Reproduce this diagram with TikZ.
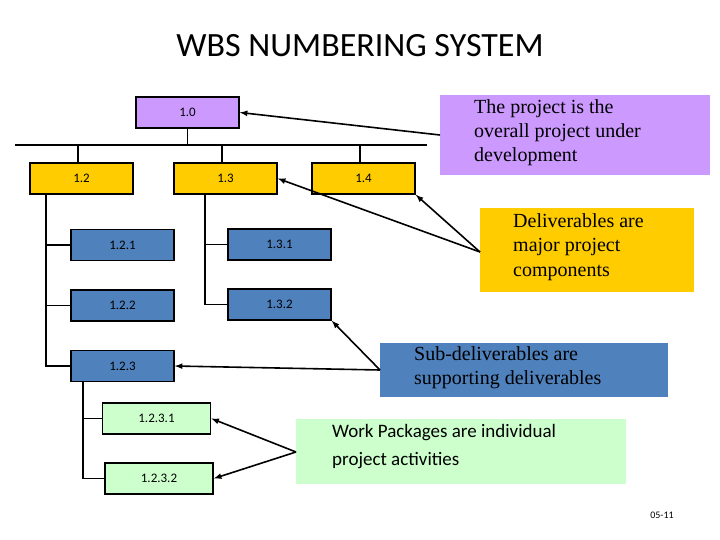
\documentclass[tikz,border=0pt]{standalone}
\usepackage{fontspec}
\setmainfont{Carlito}
\newfontfamily\serifc{Liberation Serif}
\definecolor{cpurple}{RGB}{204,153,255}
\definecolor{cyellow}{RGB}{255,204,0}
\definecolor{cblue}{RGB}{79,129,189}
\definecolor{cgreen}{RGB}{204,255,204}
\begin{document}
\begin{tikzpicture}[x=1pt,y=-1pt,
  box/.style={draw=black,line width=1.6pt,minimum height=31pt,inner sep=0pt,font=\fontsize{13}{15}\selectfont},
  call/.style={inner sep=0pt,anchor=north west},
  ln/.style={line width=1.6pt},
  ar/.style={line width=1.6pt,-latex}]
\useasboundingbox (0,0) rectangle (720,540);
\node at (360,46) {\fontsize{34}{40}\selectfont WBS NUMBERING SYSTEM};
% level nodes
\node[box,fill=cpurple,minimum width=103pt] (n10) at (187.5,112.5) {1.0};
\node[box,fill=cyellow,minimum width=103pt] (n12) at (81.5,178.5) {1.2};
\node[box,fill=cyellow,minimum width=103pt] (n13) at (225.5,178.5) {1.3};
\node[box,fill=cyellow,minimum width=103pt] (n14) at (363.5,178.5) {1.4};
\node[box,fill=cblue,minimum width=103pt] (n121) at (122.5,245) {1.2.1};
\node[box,fill=cblue,minimum width=103pt] (n122) at (122.5,305.5) {1.2.2};
\node[box,fill=cblue,minimum width=103pt] (n123) at (122.5,366) {1.2.3};
\node[box,fill=cblue,minimum width=103pt] (n131) at (279.5,244.5) {1.3.1};
\node[box,fill=cblue,minimum width=103pt] (n132) at (279.5,304.5) {1.3.2};
\node[box,fill=cgreen,minimum width=108pt] (n1231) at (156.5,418.5) {1.2.3.1};
\node[box,fill=cgreen,minimum width=108pt] (n1232) at (159,478.5) {1.2.3.2};
% tree lines
\coordinate (bl) at (15,145); \coordinate (br) at (427,145);
\draw[ln] (bl) -- (br);
\draw[ln] (n10.south) -- (n10.south |- bl);
\draw[ln] (78,145) -- (78,163);
\draw[ln] (222,145) -- (222,163);
\draw[ln] (360,145) -- (360,163);
\draw[ln] (46,194) |- (n123.west);
\draw[ln] (46,245) -- (n121.west);
\draw[ln] (46,305.5) -- (n122.west);
\draw[ln] (205,194) |- (n132.west);
\draw[ln] (205,244.5) -- (n131.west);
\draw[ln] (83,382) |- (n1232.west);
\draw[ln] (83,418.5) -- (n1231.west);
% callouts
\node[call,fill=cpurple,minimum width=270pt,minimum height=80pt] (cp) at (440,95) {};
\node[call,anchor=north west,align=left,font=\serifc\fontsize{20}{24}\selectfont] at (474,99) {The project is the\\overall project under\\development};
\node[call,fill=cyellow,minimum width=214pt,minimum height=84pt] (cy) at (480,208) {};
\node[call,anchor=north west,align=left,font=\serifc\fontsize{20}{24.5}\selectfont] at (513,213) {Deliverables are\\major project\\components};
\node[call,fill=cblue,minimum width=288pt,minimum height=54pt] (cb) at (380,343) {};
\node[call,anchor=north west,align=left,font=\serifc\fontsize{20}{24}\selectfont] at (414,346) {Sub-deliverables are\\supporting deliverables};
\node[call,fill=cgreen,minimum width=330pt,minimum height=65pt] (cg) at (296,419) {};
\node[call,anchor=north west,align=left,font=\fontsize{19}{28}\selectfont] at (332,424) {Work Packages are individual\\project activities};
\node[font=\fontsize{10}{12}\selectfont] (pg) at (662,515) {05-11};
% arrows
\coordinate (pa) at (440,135);
\coordinate (ya) at (480,252);
\coordinate (ba) at (380,370);
\coordinate (ga) at (296,452);
\draw[ar] (pa) -- (n10.east);
\draw[ar] (ya) -- (n13.east);
\draw[ar] (ya) -- (n14.south east);
\draw[ar] (ba) -- (n123.east);
\draw[ar] (ba) -- (n132.south east);
\draw[ar] (ga) -- (n1231.east);
\draw[ar] (ga) -- (n1232.east);
\end{tikzpicture}
\end{document}
